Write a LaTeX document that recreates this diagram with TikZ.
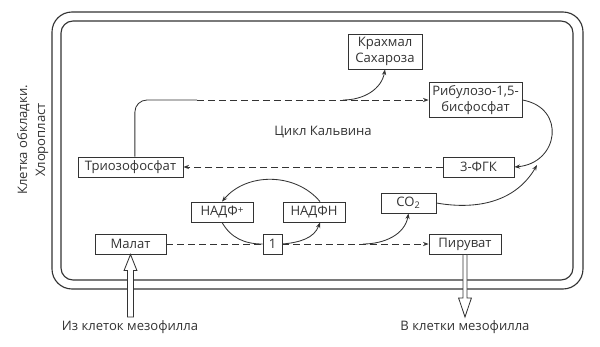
\documentclass[tikz,border=0pt]{standalone}
\usepackage{fontspec}
\setmainfont{Open Sans}
\usepackage{tikz}
\usetikzlibrary{arrows.meta, calc}
\colorlet{ink}{black!80}
\newcommand{\fatarrow}[4]{%
  \draw[ink, line width=0.6pt, fill=white] ($(#1)+(-#3,0)$) -- ($(#2)+(-#3,{-(#4)})$) -- ($(#2)+(-0.16,{-(#4)})$)
    -- (#2) -- ($(#2)+(0.16,{-(#4)})$) -- ($(#2)+(#3,{-(#4)})$) -- ($(#1)+(#3,0)$) -- cycle;}

\begin{document}
\begin{tikzpicture}[>={Stealth[length=4pt,width=3pt]}, font=\fontsize{9.3}{11.5}\selectfont, text=ink,
    box/.style={draw=ink, line width=0.6pt, fill=white, inner sep=0pt, minimum height=0.5cm, align=center},
    flow/.style={draw=ink, line width=0.6pt},
    dashflow/.style={flow, dash pattern=on 5pt off 2.8pt}]
    \useasboundingbox (0,0) rectangle (15,8.65);
    \draw[ink, line width=0.8pt, rounded corners=0.5cm] (1.3,1.425) rectangle (14.575,8.35);
    \draw[ink, line width=0.8pt, rounded corners=0.3cm] (1.525,1.65) rectangle (14.325,8.125);
    \node[rotate=90, align=center, font=\fontsize{9.3}{12.8}\selectfont] (cell) at (0.82,5.15) {Клетка обкладки.\\Хлоропласт};
    \node[box, minimum width=1.85cm, minimum height=0.875cm] (starch) at (9.625,7.3625) {Крахмал\\Сахароза};
    \node[box, minimum width=2.325cm, minimum height=0.875cm] (rubp) at (11.8875,6.15) {Рибулозо-1,5-\\бисфосфат};
    \node (calvin) at (8.075,5.35) {Цикл Кальвина};
    \node[box, minimum width=1.775cm] (pga) at (11.9625,4.475) {3-ФГК};
    \node[box, minimum width=2.625cm] (triose) at (3.2625,4.475) {Триозофосфат};
    \node[box, minimum width=1.375cm] (co2) at (10.2125,3.575) {CO\textsubscript{2}};
    \node[box, minimum width=1.55cm] (nadp) at (5.55,3.35) {НАДФ\raisebox{0.35ex}{\scriptsize +}};
    \node[box, minimum width=1.55cm] (nadph) at (7.85,3.35) {НАДФН};
    \node[box, minimum width=0.475cm] (one) at (6.8125,2.55) {1};
    \node[box, minimum width=1.775cm] (malate) at (3.2625,2.55) {Малат};
    \node[box, minimum width=1.8cm] (pyruvate) at (11.625,2.55) {Пируват};
    \coordinate (solidend) at (4.925,6.15);
    \coordinate (tostarch) at (8.575,6.15);
    \coordinate (join) at (13.425,4.525);
    \coordinate (toco2) at (9.075,2.55);
    \coordinate (intail) at (3.2625,0.725);
    \coordinate (outtip) at (11.625,0.725);
    % Calvin cycle
    \draw[flow, rounded corners=0.3cm] ([xshift=0.11cm]triose.north) |- (solidend);
    \draw[dashflow, ->] (solidend) -- (rubp.west);
    \draw[flow, ->] (tostarch) to[out=0, in=-100] (starch.south);
    \draw[flow, ->] (rubp.east) to[out=-10, in=5, looseness=1.7] (pga.east);
    \draw[flow, ->] (co2.east) to[out=-10, in=-120] (join);
    \draw[dashflow, ->] (pga.west) -- (triose.east);
    % malate to pyruvate
    \draw[dashflow] (malate.east) -- (one.west);
    \draw[dashflow, ->] (one.east) -- (pyruvate.west);
    \draw[flow, ->] (toco2) to[out=0, in=-100] (co2.south);
    \draw[flow, ->] ([xshift=0.15cm]nadph.north) to[out=130, in=50] (nadp.north);
    \draw[flow] (nadp.south) to[out=-60, in=180] (one.west);
    \draw[flow, ->] (one.east) to[out=5, in=-110] ([xshift=0.15cm]nadph.south);
    \fatarrow{intail}{malate.south}{0.075}{0.4}
    \fatarrow{pyruvate.south}{outtip}{0.05}{-0.475}
    \node (intext) at (3.25,0.475) {Из клеток мезофилла};
    \node (outtext) at (11.625,0.475) {В клетки мезофилла};
\end{tikzpicture}
\end{document}
